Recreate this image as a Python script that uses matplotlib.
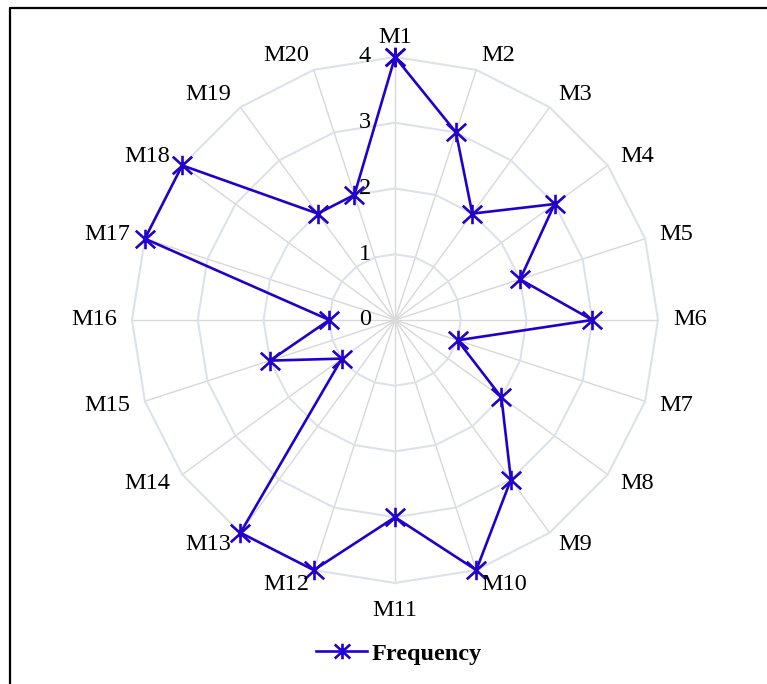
import matplotlib
matplotlib.use('Agg')
import matplotlib.pyplot as plt
from matplotlib.path import Path
from matplotlib.lines import Line2D
import numpy as np

plt.rcParams['font.family'] = ['Liberation Serif', 'DejaVu Serif']

# data
categories = ['M%d' % (i + 1) for i in range(20)]
frequency = [4, 3, 2, 3, 2, 3, 1, 2, 3, 4, 3, 4, 4, 1, 2, 1, 4, 4, 2, 2]
rings = [1, 2, 3, 4]
ring_labels = ['0', '1', '2', '3', '4']

blue = '#2200cc'
ring_col = '#dde2ea'
spoke_col = '#d8d8d8'
fs = 17.5

# asterisk marker: X plus vertical bar
star = Path([(-1.05, -0.95), (1.05, 0.95), (-1.05, 0.95), (1.05, -0.95), (0, -1.05), (0, 1.05)],
            [Path.MOVETO, Path.LINETO] * 3)

fig = plt.figure(figsize=(7.67, 6.84), dpi=100)
ax = fig.add_axes([0.1721, 0.1477, 0.6858, 0.769], projection='polar')
ax.set_theta_zero_location('N')
ax.set_theta_direction(-1)
ax.set_ylim(0, 4)
ax.set_xticks([])
ax.set_yticks([])
ax.grid(False)
ax.spines['polar'].set_visible(False)
ax.patch.set_alpha(0)

n = len(categories)
theta = np.linspace(0, 2 * np.pi, n, endpoint=False)
theta_c = np.append(theta, theta[0])

# spokes
for t in theta:
    ax.plot([t, t], [0, 4], color=spoke_col, lw=1.0, zorder=1, clip_on=False)

# polygon rings
for r in rings:
    ax.plot(theta_c, [r] * (n + 1), color=ring_col, lw=1.5, zorder=1, clip_on=False)

# series
vals = np.append(frequency, frequency[0])
ax.plot(theta_c, vals, color=blue, lw=1.9, marker=star, markersize=14,
        markeredgewidth=1.9, zorder=3, clip_on=False, label='Frequency')

# category labels
for t, lab in zip(theta, categories):
    s = np.sin(t)
    c = np.cos(t)
    if abs(s) < 0.1:
        ha = 'center'
        r = 4.3 if c > 0 else 4.42
    elif s > 0:
        ha = 'left'
        r = 4.23
    else:
        ha = 'right'
        r = 4.23
    ax.text(t, r, lab, ha=ha, va='center', fontsize=fs, color='black')

# ring value labels
for k, lab in enumerate(ring_labels):
    ax.annotate(lab, xy=(0, k), xytext=(-17.5, 0), textcoords='offset points',
                ha='right', va='center', fontsize=fs, color='black',
                annotation_clip=False)

fig.legend(loc='center', bbox_to_anchor=(399 / 767, 0.044), frameon=False,
           prop={'weight': 'bold', 'size': fs}, handlelength=2.1,
           handletextpad=0.2, markerscale=0.8)

# outer frame (top and left)
fx = 9.5 / 767
fy = 1 - 8 / 684
fig.add_artist(Line2D([fx, fx, 1], [0, fy, fy], transform=fig.transFigure,
                      color='black', lw=1.6))

fig.savefig('out.png', dpi=100)
